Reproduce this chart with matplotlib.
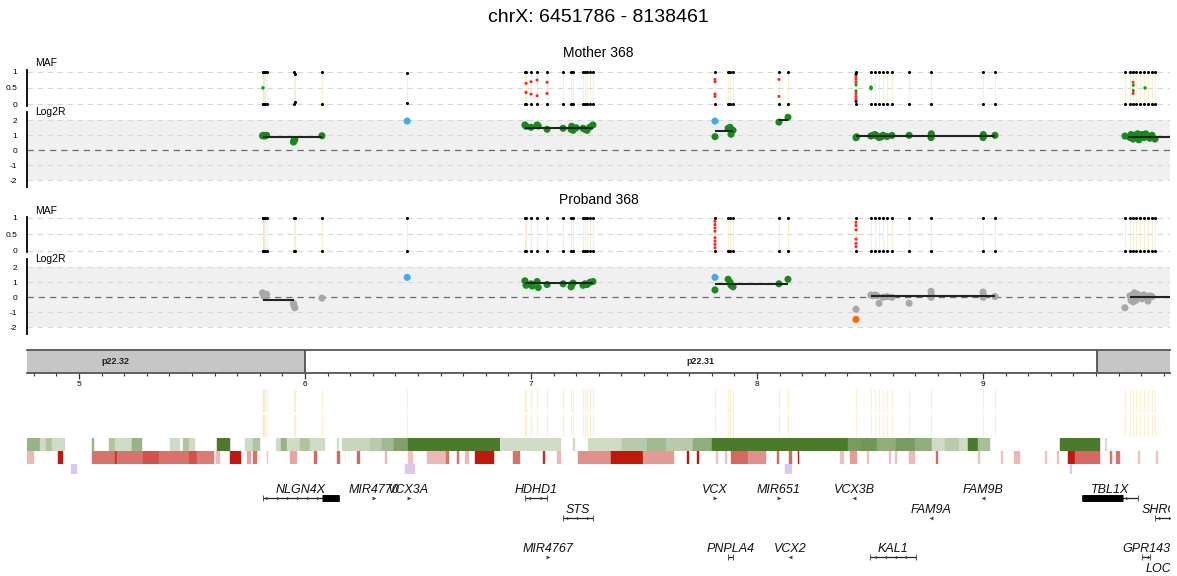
import matplotlib
matplotlib.use('Agg')
import matplotlib.pyplot as plt
import numpy as np
from matplotlib.colors import LinearSegmentedColormap
from matplotlib.ticker import MultipleLocator

plt.rcParams['font.family'] = ['Liberation Sans', 'DejaVu Sans']

# ---------------- DATA (positions in Mb on chrX) ----------------
title = "chrX: 6451786 - 8138461"
view_start, view_end = 4.7699, 9.8274

snp_pos = [5.812, 5.816, 5.820, 5.825, 5.830, 5.951, 5.955, 6.075, 6.452,
           6.973, 6.978, 7.000, 7.027, 7.071, 7.142, 7.177, 7.186, 7.230,
           7.239, 7.248, 7.261, 7.274, 7.814, 7.872, 7.881, 7.894, 8.097,
           8.137, 8.438, 8.504, 8.522, 8.540, 8.558, 8.575, 8.597, 8.673,
           8.770, 9.000, 9.053, 9.628, 9.650, 9.664, 9.677, 9.695, 9.712,
           9.730, 9.748, 9.761]
mother_hom_baf = [0.0, 0.0, 0.0, 0.0, 0.0, 0.0, 0.07, 0.0, 0.04,
                  0.0, 0.0, 0.0, 0.0, 0.0, 0.0, 0.0, 0.0, 0.0,
                  0.0, 0.0, 0.0, 0.0, 0.0, 0.0, 0.0, 0.0, 0.0,
                  0.0, 0.0, 0.0, 0.0, 0.0, 0.0, 0.0, 0.0, 0.0,
                  0.0, 0.0, 0.0, 0.0, 0.0, 0.0, 0.0, 0.0, 0.0,
                  0.0, 0.0, 0.0]
proband_hom_baf = [0.0] * len(snp_pos)

mother_het_pos = [5.814, 6.978, 7.000, 7.027, 7.071, 7.814, 7.814, 8.097,
                  8.438, 8.438, 8.438, 8.438, 8.438, 8.504, 8.505, 9.664, 9.665, 9.717]
mother_het_baf = [0.50, 0.36, 0.31, 0.26, 0.33, 0.24, 0.31, 0.24,
                  0.09, 0.16, 0.24, 0.33, 0.41, 0.47, 0.50, 0.33, 0.42, 0.50]
mother_het_cls = ['g', 'r', 'r', 'r', 'r', 'r', 'r', 'r',
                  'k', 'r', 'r', 'r', 'g', 'g', 'g', 'r', 'g', 'g']

proband_het_pos = [7.814, 7.814, 7.814, 7.814, 8.438, 8.438, 8.438]
proband_het_baf = [0.10, 0.20, 0.30, 0.40, 0.13, 0.23, 0.36]
proband_het_cls = ['r', 'r', 'r', 'r', 'r', 'r', 'r']

mother_lrr_pos = [5.812, 5.816, 5.820, 5.825, 5.830, 5.949, 5.951, 5.955, 6.075, 6.452,
                  6.973, 6.978, 7.000, 7.027, 7.032, 7.071, 7.142, 7.177, 7.180, 7.186,
                  7.200, 7.230, 7.239, 7.248, 7.261, 7.274,
                  7.814, 7.814, 7.872, 7.881, 7.885, 7.894, 8.097, 8.137,
                  8.438, 8.440, 8.504, 8.512, 8.522, 8.531, 8.540, 8.550, 8.558, 8.575,
                  8.597, 8.673, 8.770, 8.771, 8.772, 9.000, 9.001, 9.002, 9.053,
                  9.628, 9.650, 9.655, 9.664, 9.670, 9.677, 9.684, 9.690, 9.695, 9.703,
                  9.712, 9.720, 9.730, 9.738, 9.748, 9.761]
mother_lrr_val = [0.97, 1.00, 0.95, 0.98, 1.00, 0.55, 0.65, 0.70, 0.97, 1.95,
                  1.69, 1.60, 1.53, 1.69, 1.62, 1.40, 1.47, 1.40, 1.60, 1.33,
                  1.50, 1.47, 1.40, 1.33, 1.55, 1.69,
                  1.95, 0.91, 1.47, 1.53, 1.07, 1.33, 1.88, 2.20,
                  0.84, 0.90, 0.95, 1.00, 1.05, 0.95, 0.85, 0.90, 1.00, 0.92,
                  0.99, 1.00, 0.85, 1.10, 1.00, 0.85, 1.05, 0.95, 1.00,
                  0.95, 0.85, 1.05, 0.75, 1.00, 0.90, 1.10, 0.70, 0.95, 1.05,
                  0.85, 1.10, 0.95, 0.80, 1.00, 0.75]
mother_lrr_cls = ['g'] * 9 + ['b'] + ['g'] * 16 + ['b'] + ['g'] * 42

proband_lrr_pos = [5.812, 5.816, 5.820, 5.825, 5.830, 5.949, 5.951, 5.955, 6.075, 6.452,
                   6.973, 6.978, 7.000, 7.005, 7.027, 7.032, 7.071, 7.142, 7.177, 7.180,
                   7.186, 7.230, 7.239, 7.248, 7.261, 7.274,
                   7.814, 7.814, 7.872, 7.881, 7.885, 7.894, 8.097, 8.137,
                   8.438, 8.438, 8.504, 8.512, 8.522, 8.531, 8.540, 8.558, 8.575,
                   8.597, 8.673, 8.770, 8.771, 8.772, 9.000, 9.001, 9.002, 9.053,
                   9.628, 9.650, 9.655, 9.664, 9.670, 9.677, 9.684, 9.690, 9.695, 9.703,
                   9.712, 9.720, 9.730, 9.738, 9.748]
proband_lrr_val = [0.30, 0.15, 0.05, 0.00, 0.20, -0.40, -0.55, -0.70, -0.05, 1.33,
                   1.10, 0.80, 0.90, 0.75, 1.05, 0.65, 0.85, 0.90, 0.70, 0.85,
                   0.95, 0.80, 0.90, 0.85, 1.00, 1.05,
                   1.33, 0.49, 1.20, 1.00, 0.80, 0.70, 0.90, 1.20,
                   -0.80, -1.47, 0.15, 0.10, 0.15, 0.10, -0.40, 0.00, 0.05,
                   0.00, -0.40, 0.40, 0.00, 0.15, 0.35, 0.00, 0.15, 0.05,
                   -0.70, 0.10, -0.20, -0.30, 0.30, -0.20, 0.20, 0.05, 0.10, -0.10,
                   0.15, 0.00, -0.25, 0.10, 0.05]
proband_lrr_cls = (['n'] * 9 + ['b'] + ['g'] * 16 + ['b'] + ['g'] * 7
                   + ['n', 'o'] + ['n'] * 31)

mother_seg_start = [5.812, 6.973, 7.814, 8.097, 8.438, 9.640]
mother_seg_end = [6.075, 7.274, 7.894, 8.137, 9.053, 9.900]
mother_seg_val = [0.87, 1.52, 1.30, 2.05, 0.95, 0.92]

proband_seg_start = [5.812, 6.973, 7.814, 8.504, 9.650]
proband_seg_end = [5.951, 7.274, 8.137, 9.053, 9.900]
proband_seg_val = [-0.15, 0.95, 0.87, 0.08, 0.00]

band_names = ['p22.32', 'p22.31', 'p22.2']
band_start = [4.318, 6.000, 9.504]
band_end = [6.000, 9.504, 10.500]
band_stain = ['gpos', 'gneg', 'gpos']

green_start = [4.770, 4.827, 4.854, 4.881, 5.058, 5.133, 5.159, 5.235, 5.403, 5.460,
               5.487, 5.611, 5.735, 5.770, 5.872, 5.894, 5.920, 5.978, 6.022, 6.142,
               6.164, 6.288, 6.341, 6.394, 6.456, 6.867, 7.186, 7.252, 7.403, 7.513,
               7.597, 7.717, 7.801, 8.403, 8.460, 8.531, 8.615, 8.699, 8.774, 8.832,
               8.894, 8.934, 8.978, 9.341, 9.540]
green_end = [4.827, 4.854, 4.881, 4.938, 5.066, 5.159, 5.235, 5.279, 5.447, 5.487,
             5.513, 5.668, 5.770, 5.801, 5.894, 5.920, 5.978, 6.022, 6.088, 6.150,
             6.288, 6.341, 6.394, 6.456, 6.863, 7.133, 7.195, 7.403, 7.513, 7.597,
             7.717, 7.801, 8.403, 8.460, 8.531, 8.615, 8.699, 8.774, 8.832, 8.894,
             8.934, 8.978, 9.031, 9.518, 9.549]
green_level = [0.5, 0.15, 0.35, 0.15, 0.5, 0.35, 0.15, 0.5, 0.15, 0.35,
               0.15, 1.0, 0.15, 0.35, 0.15, 0.5, 0.15, 0.35, 0.15, 0.15,
               0.2, 0.3, 0.45, 0.65, 1.0, 0.15, 0.15, 0.15, 0.3, 0.45,
               0.3, 0.55, 1.0, 0.7, 0.75, 0.55, 0.7, 0.55, 0.15, 0.3,
               0.15, 1.0, 0.4, 1.0, 0.1]

red_start = [4.770, 4.907, 5.058, 5.159, 5.170, 5.283, 5.354, 5.487, 5.522, 5.606,
             5.668, 5.743, 5.770, 5.834, 5.934, 6.040, 6.142, 6.230, 6.354, 6.456,
             6.540, 6.624, 6.673, 6.708, 6.752, 6.920, 7.053, 7.115, 7.208, 7.354,
             7.496, 7.690, 7.735, 7.819, 7.858, 7.885, 7.960, 8.088, 8.142, 8.181,
             8.367, 8.412, 8.487, 8.584, 8.611, 8.673, 8.792, 8.978, 9.080, 9.137,
             9.274, 9.327, 9.376, 9.407, 9.562, 9.588, 9.686, 9.765]
red_end = [4.801, 4.929, 5.159, 5.170, 5.283, 5.354, 5.487, 5.522, 5.597, 5.624,
           5.717, 5.761, 5.788, 5.838, 5.965, 6.053, 6.155, 6.243, 6.363, 6.478,
           6.624, 6.637, 6.681, 6.726, 6.836, 6.951, 7.062, 7.133, 7.354, 7.496,
           7.633, 7.699, 7.743, 7.827, 7.867, 7.960, 8.040, 8.097, 8.155, 8.186,
           8.385, 8.442, 8.496, 8.592, 8.619, 8.699, 8.801, 8.987, 9.088, 9.164,
           9.283, 9.336, 9.407, 9.518, 9.571, 9.606, 9.695, 9.774]
red_level = [0.2, 1.0, 0.55, 0.85, 0.55, 0.7, 0.55, 0.7, 0.5, 0.2,
             1.0, 0.3, 0.55, 0.15, 0.3, 0.6, 0.6, 0.6, 0.2, 0.15,
             0.2, 0.55, 0.55, 0.2, 1.0, 0.55, 0.9, 0.2, 0.4, 1.0,
             0.35, 1.0, 1.0, 0.15, 0.15, 0.6, 0.4, 0.6, 0.6, 1.0,
             0.15, 0.35, 0.15, 0.15, 0.15, 0.2, 0.6, 0.15, 0.15, 0.2,
             0.15, 0.15, 1.0, 0.6, 0.55, 0.55, 0.15, 0.15]

purple_start = [4.965, 6.442, 8.124, 9.385]
purple_end = [4.991, 6.487, 8.155, 9.394]

gene_names = ['NLGN4X', 'MIR4770', 'VCX3A', 'HDHD1', 'STS', 'MIR4767', 'VCX', 'MIR651',
              'VCX3B', 'FAM9B', 'FAM9A', 'TBL1X', 'SHROOM2', 'PNPLA4', 'VCX2', 'KAL1',
              'GPR143', 'LOC101928437']
gene_start = [5.814, 6.304, 6.459, 6.973, 7.142, 7.074, 7.813, 8.096,
              8.428, 8.999, 8.769, 9.438, 9.761, 7.872, 8.145, 8.500,
              9.704, 9.900]
gene_end = [6.150, 6.306, 6.461, 7.071, 7.274, 7.076, 7.816, 8.098,
            8.431, 9.002, 8.772, 9.686, 9.920, 7.894, 8.147, 8.704,
            9.739, 9.935]
gene_row = [0, 0, 0, 0, 1, 3, 0, 0, 0, 0, 1, 0, 1, 3, 3, 3, 3, 4]
gene_strand = ['+', '+', '+', '-', '+', '+', '+', '+', '-', '-', '-', '+', '+', '+', '-', '-', '-', '+']
gene_thick_start = [6.075, None, None, None, None, None, None, None,
                    None, None, None, 9.438, None, None, None, None, None, None]
gene_thick_end = [6.150, None, None, None, None, None, None, None,
                  None, None, None, 9.619, None, None, None, None, None, None]

# ---------------- LAYOUT / STYLE ----------------
W, H = 1177, 576
PX0, PX1 = 27, 1170
fig = plt.figure(figsize=(W / 100, H / 100), dpi=100)

MAF_COL = {'k': 'black', 'r': '#ff2a1a', 'g': '#159c15'}
LRR_COL = {'g': '#168c16', 'b': '#44aaf0', 'n': '#a8a8a8', 'o': '#ff6a00'}


def px_axes(y0, y1, x0=PX0, x1=PX1):
    ax = fig.add_axes([x0 / W, 1 - y1 / H, (x1 - x0) / W, (y1 - y0) / H])
    ax.set_xlim(view_start, view_end)
    ax.patch.set_alpha(0)
    return ax


def ftext(x, y, s, **kw):
    fig.text(x / W, 1 - y / H, s, **kw)


def style_left(ax, lo, hi):
    for sp in ('top', 'right', 'bottom'):
        ax.spines[sp].set_visible(False)
    ax.spines['left'].set_bounds(lo, hi)
    ax.spines['left'].set_linewidth(1.3)
    ax.set_xticks([])
    ax.tick_params(axis='y', length=0, pad=7, labelsize=6)


def maf_panel(top, bottom, hom_baf, het_pos, het_baf, het_cls):
    ax = px_axes(top, bottom)
    ax.set_ylim(-0.15, 1.15)
    for v in (0, 0.5, 1):
        ax.axhline(v, color='#d6d6d6', lw=0.8, ls=(0, (5, 4)), zorder=0)
    ax.vlines(snp_pos, 0, 1, color='#f3dc9c', lw=0.8, alpha=0.45, zorder=1)
    p = np.array(snp_pos)
    b = np.array(hom_baf)
    ax.scatter(np.r_[p, p], np.r_[b, 1 - b], s=5, c='black', lw=0, zorder=3)
    hp = np.array(het_pos)
    hb = np.array(het_baf)
    cols = [MAF_COL[c] for c in het_cls]
    ax.scatter(np.r_[hp, hp], np.r_[hb, 1 - hb], s=5, c=cols + cols, lw=0, zorder=4)
    ax.set_yticks([0, 0.5, 1])
    ax.set_yticklabels(['0', '0.5', '1'])
    style_left(ax, -0.04, 1.04)
    return ax


def lrr_panel(top, bottom, pos, val, cls, s0, s1, sv):
    ax = px_axes(top, bottom)
    ax.set_ylim(-2.5, 2.55)
    ax.axhspan(-2, 2, color='#f0f0f0', lw=0, zorder=0)
    for v in (-2, -1, 1, 2):
        ax.axhline(v, color='#d8d8d8', lw=0.8, ls=(0, (5, 4)), zorder=1)
    ax.axhline(0, color='#6a6a6a', lw=0.9, ls=(0, (5, 4)), zorder=1)
    ax.scatter(pos, val, s=26, c=[LRR_COL[c] for c in cls], lw=0, zorder=3)
    ax.hlines(sv, s0, s1, color='#222222', lw=1.5, zorder=4)
    ax.set_yticks([-2, -1, 0, 1, 2])
    ax.set_yticklabels(['-2', '-1', '0', '1', '2'])
    style_left(ax, -2.45, 2.55)
    return ax


# Title
ftext(598.5, 18, title, ha='center', va='center', fontsize=14)

# Mother
ftext(598.5, 53, 'Mother 368', ha='center', va='center', fontsize=10)
maf_panel(66.6, 109.2, mother_hom_baf, mother_het_pos, mother_het_baf, mother_het_cls)
ftext(35, 63.5, 'MAF', ha='left', va='center', fontsize=7.5)
lrr_panel(112.05, 187.8, mother_lrr_pos, mother_lrr_val, mother_lrr_cls,
          mother_seg_start, mother_seg_end, mother_seg_val)
ftext(35, 112, 'Log2R', ha='left', va='center', fontsize=7.5)

# Proband
ftext(598.5, 200, 'Proband 368', ha='center', va='center', fontsize=10)
maf_panel(213.05, 255.95, proband_hom_baf, proband_het_pos, proband_het_baf, proband_het_cls)
ftext(35, 210.5, 'MAF', ha='left', va='center', fontsize=7.5)
lrr_panel(259.05, 334.8, proband_lrr_pos, proband_lrr_val, proband_lrr_cls,
          proband_seg_start, proband_seg_end, proband_seg_val)
ftext(35, 259.5, 'Log2R', ha='left', va='center', fontsize=7.5)

# Ideogram
axi = px_axes(350, 373)
axi.set_ylim(0, 1)
for name, s, e, st in zip(band_names, band_start, band_end, band_stain):
    axi.axvspan(s, e, color='#c6c6c6' if st == 'gpos' else 'white', lw=0, zorder=0)
    c = (s + e) / 2
    if view_start < c < view_end:
        axi.text(c, 0.5, name, ha='center', va='center', fontsize=6.5,
                 fontweight='bold', color='#222')
for s in band_start[1:]:
    axi.axvline(s, color='#444', lw=1.2, zorder=2)
for sp in ('left', 'right'):
    axi.spines[sp].set_visible(False)
for sp in ('top', 'bottom'):
    axi.spines[sp].set_color('#555')
    axi.spines[sp].set_linewidth(1.3)
axi.set_yticks([])
axi.xaxis.set_major_locator(MultipleLocator(1))
axi.xaxis.set_minor_locator(MultipleLocator(0.1))
axi.xaxis.set_major_formatter(plt.FuncFormatter(lambda v, p: '%d' % round(v)))
axi.tick_params(axis='x', which='major', direction='out', length=4.5, width=0.9,
                color='#333', labelsize=6, pad=1.5)
axi.tick_params(axis='x', which='minor', direction='out', length=2.3, width=0.8,
                color='#333')

# Faint SNP lines track
axy = px_axes(389, 437)
axy.set_ylim(0, 1)
axy.vlines(snp_pos, 0.53, 1, color='#f8e6a8', lw=0.9, alpha=0.55)
axy.vlines(snp_pos, 0, 0.47, color='#f8e6a8', lw=0.9, alpha=0.55)
axy.axis('off')

# Heat tracks
gcmap = LinearSegmentedColormap.from_list('gr', ['#e6ece0', '#4a7a2a'])
rcmap = LinearSegmentedColormap.from_list('rd', ['#f7e0e1', '#c2170b'])


def heat(y0, y1, starts, ends, colors):
    ax = px_axes(y0, y1)
    ax.set_ylim(0, 1)
    st = np.array(starts)
    w = np.array(ends) - st
    ax.bar(st, 1, width=w, bottom=0, align='edge', color=colors,
           edgecolor=colors, linewidth=0.3)
    ax.axis('off')
    return ax


heat(438, 450.5, green_start, green_end, [gcmap(v) for v in green_level])
heat(451, 463.5, red_start, red_end, [rcmap(v) for v in red_level])
heat(463.5, 473.5, purple_start, purple_end, ['#d9c9ee'] * len(purple_start))

# Genes
ROW0, ROWH = 498, 19.7
gtop, gbot = 478, 590
axg = px_axes(gtop, gbot)
axg.set_ylim((gbot - ROW0) / ROWH, (gtop - ROW0) / ROWH)
axg.axis('off')
for name, s, e, r, strand, ts, te in zip(gene_names, gene_start, gene_end, gene_row,
                                         gene_strand, gene_thick_start, gene_thick_end):
    mk = '>' if strand == '+' else '<'
    if e - s > 0.015:
        axg.plot([s, e], [r, r], color='#222', lw=0.9, solid_capstyle='butt')
        axg.plot([s, e], [r, r], ls='none', marker='|', ms=4, mew=0.7, color='#555')
        arr = np.arange(s + 0.02, e - 0.01, 0.045)
        axg.plot(arr, [r] * len(arr), ls='none', marker=mk, ms=2.2, color='#333', mew=0)
        if ts is not None:
            axg.plot([ts, te], [r, r], color='black', lw=5, solid_capstyle='butt')
    else:
        axg.plot([(s + e) / 2], [r], ls='none', marker=mk, ms=2.8, color='#444', mew=0)
    axg.text((s + e) / 2, r - 0.4, name, ha='center', va='center', fontsize=9,
             style='italic', color='#111', clip_on=True)

fig.savefig('out.png', dpi=100)
